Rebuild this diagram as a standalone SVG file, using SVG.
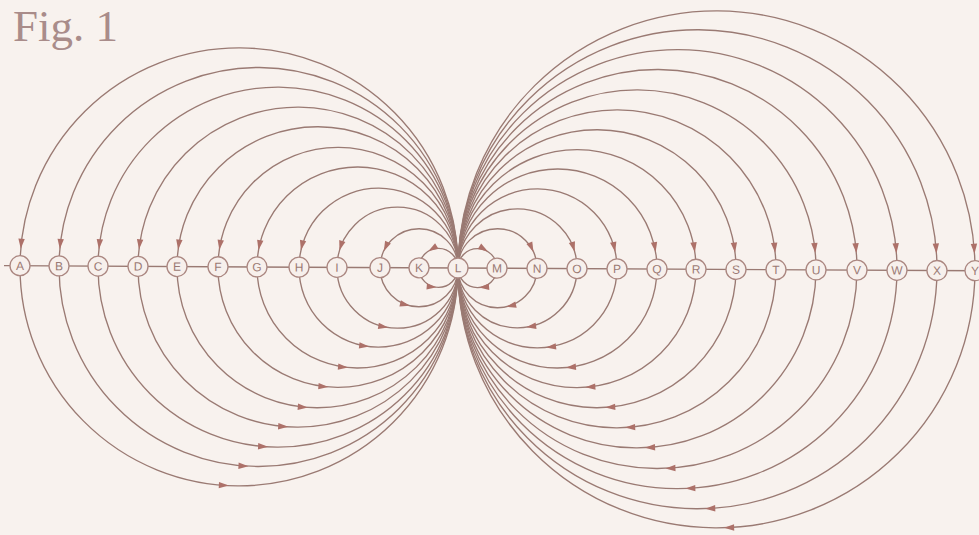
<svg xmlns="http://www.w3.org/2000/svg" xmlns:xlink="http://www.w3.org/1999/xlink" width="979" height="535" viewBox="0 0 979 535">
<style>
.c{fill:none;stroke:#9a7a73;stroke-width:1.35}
.ax{stroke:#9a7a73;stroke-width:1.4}
.ar{fill:#ad7169}
.n circle{fill:#f7f0ec;stroke:#ab8781;stroke-width:1.3}
.n text{font-family:"Liberation Sans",Arial,sans-serif;font-size:12px;fill:#9b7a74;text-anchor:middle}
.fig{font-family:"Liberation Serif","Times New Roman",serif;font-size:45px;fill:#a98c8a}
</style>
<defs>
<path id="ad" class="ar" d="M0,0 L-3.2,-10 L3.2,-10 Z"/>
<path id="arr" class="ar" d="M0,0 L-10,-3.2 L-10,3.2 Z"/>
<path id="al" class="ar" d="M0,0 L10,-3.2 L10,3.2 Z"/>
</defs>
<rect width="979" height="535" fill="#f8f2ee"/>
<text class="fig" x="13" y="41">Fig. 1</text>
<g transform="rotate(0.3 458 268)">
<g id="connectors">
<line class="ax" x1="4" y1="268" x2="985" y2="268"/>
<circle class="c" cx="239" cy="268" r="219"/>
<circle class="c" cx="258.5" cy="268" r="199.5"/>
<circle class="c" cx="278" cy="268" r="180"/>
<circle class="c" cx="298" cy="268" r="160"/>
<circle class="c" cx="317.5" cy="268" r="140.5"/>
<circle class="c" cx="338" cy="268" r="120"/>
<circle class="c" cx="357.5" cy="268" r="100.5"/>
<circle class="c" cx="378.5" cy="268" r="79.5"/>
<circle class="c" cx="397.5" cy="268" r="60.5"/>
<circle class="c" cx="419" cy="268" r="39"/>
<circle class="c" cx="438.5" cy="268" r="19.5"/>
<circle class="c" cx="477.5" cy="268" r="19.5"/>
<circle class="c" cx="497.5" cy="268" r="39.5"/>
<circle class="c" cx="517.5" cy="268" r="59.5"/>
<circle class="c" cx="537.5" cy="268" r="79.5"/>
<circle class="c" cx="557.5" cy="268" r="99.5"/>
<circle class="c" cx="577" cy="268" r="119"/>
<circle class="c" cx="597" cy="268" r="139"/>
<circle class="c" cx="617" cy="268" r="159"/>
<circle class="c" cx="637" cy="268" r="179"/>
<circle class="c" cx="657.5" cy="268" r="199.5"/>
<circle class="c" cx="677.5" cy="268" r="219.5"/>
<circle class="c" cx="697.5" cy="268" r="239.5"/>
<circle class="c" cx="716.5" cy="268" r="258.5"/>
<use href="#ad" x="20" y="268" transform="rotate(4.448 239 268)"/>
<use href="#ad" x="59" y="268" transform="rotate(4.882 258.5 268)"/>
<use href="#ad" x="98" y="268" transform="rotate(5.411 278 268)"/>
<use href="#ad" x="138" y="268" transform="rotate(6.088 298 268)"/>
<use href="#ad" x="177" y="268" transform="rotate(6.932 317.5 268)"/>
<use href="#ad" x="218" y="268" transform="rotate(8.117 338 268)"/>
<use href="#ad" x="257" y="268" transform="rotate(9.692 357.5 268)"/>
<use href="#ad" x="299" y="268" transform="rotate(12.252 378.5 268)"/>
<use href="#ad" x="337" y="268" transform="rotate(16.1 397.5 268)"/>
<use href="#ad" x="380" y="268" transform="rotate(24.975 419 268)"/>
<use href="#ad" x="419" y="268" transform="rotate(58 438.5 268)"/>
<use href="#ad" x="497" y="268" transform="rotate(-58 477.5 268)"/>
<use href="#ad" x="537" y="268" transform="rotate(-24.66 497.5 268)"/>
<use href="#ad" x="577" y="268" transform="rotate(-16.37 517.5 268)"/>
<use href="#ad" x="617" y="268" transform="rotate(-12.25 537.5 268)"/>
<use href="#ad" x="657" y="268" transform="rotate(-9.79 557.5 268)"/>
<use href="#ad" x="696" y="268" transform="rotate(-8.185 577 268)"/>
<use href="#ad" x="736" y="268" transform="rotate(-7.007 597 268)"/>
<use href="#ad" x="776" y="268" transform="rotate(-6.126 617 268)"/>
<use href="#ad" x="816" y="268" transform="rotate(-5.441 637 268)"/>
<use href="#ad" x="857" y="268" transform="rotate(-4.882 657.5 268)"/>
<use href="#ad" x="897" y="268" transform="rotate(-4.437 677.5 268)"/>
<use href="#ad" x="937" y="268" transform="rotate(-4.067 697.5 268)"/>
<use href="#ad" x="975" y="268" transform="rotate(-3.768 716.5 268)"/>
<use href="#arr" x="239" y="487" transform="rotate(2.355 239 268)"/>
<use href="#arr" x="258.5" y="467.5" transform="rotate(2.585 258.5 268)"/>
<use href="#arr" x="278" y="448" transform="rotate(2.865 278 268)"/>
<use href="#arr" x="298" y="428" transform="rotate(3.223 298 268)"/>
<use href="#arr" x="317.5" y="408.5" transform="rotate(3.67 317.5 268)"/>
<use href="#arr" x="338" y="388" transform="rotate(4.297 338 268)"/>
<use href="#arr" x="357.5" y="368.5" transform="rotate(5.131 357.5 268)"/>
<use href="#arr" x="378.5" y="347.5" transform="rotate(6.486 378.5 268)"/>
<use href="#arr" x="397.5" y="328.5" transform="rotate(8.523 397.5 268)"/>
<use href="#arr" x="419" y="307" transform="rotate(13.22 419 268)"/>
<use href="#arr" x="438.5" y="287.5" transform="rotate(5 438.5 268)"/>
<use href="#al" x="477.5" y="287.5" transform="rotate(-5 477.5 268)"/>
<use href="#al" x="497.5" y="307.5" transform="rotate(-13.05 497.5 268)"/>
<use href="#al" x="517.5" y="327.5" transform="rotate(-8.667 517.5 268)"/>
<use href="#al" x="537.5" y="347.5" transform="rotate(-6.486 537.5 268)"/>
<use href="#al" x="557.5" y="367.5" transform="rotate(-5.183 557.5 268)"/>
<use href="#al" x="577" y="387" transform="rotate(-4.333 577 268)"/>
<use href="#al" x="597" y="407" transform="rotate(-3.71 597 268)"/>
<use href="#al" x="617" y="427" transform="rotate(-3.243 617 268)"/>
<use href="#al" x="637" y="447" transform="rotate(-2.881 637 268)"/>
<use href="#al" x="657.5" y="467.5" transform="rotate(-2.585 657.5 268)"/>
<use href="#al" x="677.5" y="487.5" transform="rotate(-2.349 677.5 268)"/>
<use href="#al" x="697.5" y="507.5" transform="rotate(-2.153 697.5 268)"/>
<use href="#al" x="716.5" y="526.5" transform="rotate(-1.995 716.5 268)"/>
</g>
<g id="A" class="n"><circle cx="20" cy="268" r="10"/><text x="20" y="272.3">A</text></g>
<g id="B" class="n"><circle cx="59" cy="268" r="10"/><text x="59" y="272.3">B</text></g>
<g id="C" class="n"><circle cx="98" cy="268" r="10"/><text x="98" y="272.3">C</text></g>
<g id="D" class="n"><circle cx="138" cy="268" r="10"/><text x="138" y="272.3">D</text></g>
<g id="E" class="n"><circle cx="177" cy="268" r="10"/><text x="177" y="272.3">E</text></g>
<g id="F" class="n"><circle cx="218" cy="268" r="10"/><text x="218" y="272.3">F</text></g>
<g id="G" class="n"><circle cx="257" cy="268" r="10"/><text x="257" y="272.3">G</text></g>
<g id="H" class="n"><circle cx="299" cy="268" r="10"/><text x="299" y="272.3">H</text></g>
<g id="I" class="n"><circle cx="337" cy="268" r="10"/><text x="337" y="272.3">I</text></g>
<g id="J" class="n"><circle cx="380" cy="268" r="10"/><text x="380" y="272.3">J</text></g>
<g id="K" class="n"><circle cx="419" cy="268" r="10"/><text x="419" y="272.3">K</text></g>
<g id="L" class="n"><circle cx="458" cy="268" r="10"/><text x="458" y="272.3">L</text></g>
<g id="M" class="n"><circle cx="497" cy="268" r="10"/><text x="497" y="272.3">M</text></g>
<g id="N" class="n"><circle cx="537" cy="268" r="10"/><text x="537" y="272.3">N</text></g>
<g id="O" class="n"><circle cx="577" cy="268" r="10"/><text x="577" y="272.3">O</text></g>
<g id="P" class="n"><circle cx="617" cy="268" r="10"/><text x="617" y="272.3">P</text></g>
<g id="Q" class="n"><circle cx="657" cy="268" r="10"/><text x="657" y="272.3">Q</text></g>
<g id="R" class="n"><circle cx="696" cy="268" r="10"/><text x="696" y="272.3">R</text></g>
<g id="S" class="n"><circle cx="736" cy="268" r="10"/><text x="736" y="272.3">S</text></g>
<g id="T" class="n"><circle cx="776" cy="268" r="10"/><text x="776" y="272.3">T</text></g>
<g id="U" class="n"><circle cx="816" cy="268" r="10"/><text x="816" y="272.3">U</text></g>
<g id="V" class="n"><circle cx="857" cy="268" r="10"/><text x="857" y="272.3">V</text></g>
<g id="W" class="n"><circle cx="897" cy="268" r="10"/><text x="897" y="272.3">W</text></g>
<g id="X" class="n"><circle cx="937" cy="268" r="10"/><text x="937" y="272.3">X</text></g>
<g id="Y" class="n"><circle cx="975" cy="268" r="10"/><text x="975" y="272.3">Y</text></g>
</g>
</svg>
